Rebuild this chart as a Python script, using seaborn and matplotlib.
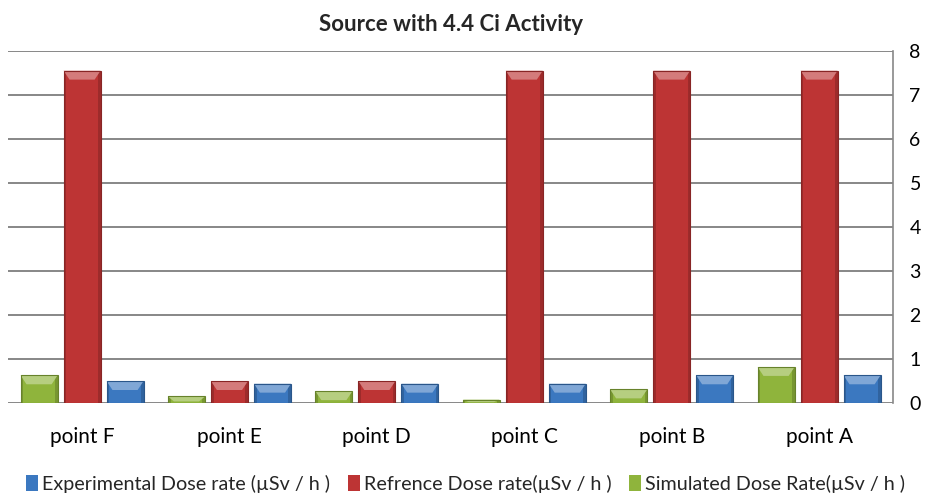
import matplotlib
matplotlib.use("Agg")
import matplotlib.pyplot as plt
from matplotlib.patches import Polygon, Rectangle
import matplotlib.colors as mcolors
import seaborn as sns
import pandas as pd

# Dose rates at each measuring point (µSv/h)
points = ["point F", "point E", "point D", "point C", "point B", "point A"]
simulated = [0.63, 0.15, 0.27, 0.08, 0.31, 0.82]
reference = [7.55, 0.50, 0.50, 7.55, 7.55, 7.55]
experimental = [0.50, 0.44, 0.44, 0.44, 0.63, 0.63]

series_names = [
    "Simulated Dose Rate(µSv / h )",
    "Refrence Dose rate(µSv / h )",
    "Experimental Dose rate (µSv / h )",
]
series_values = [simulated, reference, experimental]
series_colors = ["#8fb43c", "#bd3434", "#3b78c0"]

rows = []
for name, vals in zip(series_names, series_values):
    for p, v in zip(points, vals):
        rows.append({"point": p, "series": name, "value": v})
df = pd.DataFrame(rows)

sns.set_theme(style="white")
plt.rcParams["font.family"] = ["Lato", "DejaVu Sans"]

fig = plt.figure(figsize=(9.29, 4.94), dpi=100)
ax = fig.add_axes([0.009, 0.184, 0.952, 0.713])

sns.barplot(
    data=df, x="point", y="value", hue="series",
    order=points, hue_order=series_names,
    palette=dict(zip(series_names, series_colors)),
    width=0.875, gap=0.14, saturation=1, errorbar=None,
    edgecolor="none", ax=ax, zorder=3,
)

# bevelled look: lighter top facet and darker sides on every bar
px_per_unit = ax.transData.transform((0, 1))[1] - ax.transData.transform((0, 0))[1]
for bar in list(ax.patches):
    x, y = bar.get_x(), bar.get_y()
    w, h = bar.get_width(), bar.get_height()
    if h <= 0:
        continue
    base = mcolors.to_rgb(bar.get_facecolor())
    light = tuple(min(1, c + (1 - c) * 0.35) for c in base)
    dark = tuple(c * 0.72 for c in base)
    bev_h = min(9 / px_per_unit, h * 0.75)
    inset = w * 0.16
    ax.add_patch(Rectangle((x, y), w * 0.07, h, color=dark, alpha=0.6, lw=0, zorder=4))
    ax.add_patch(Rectangle((x + w * 0.93, y), w * 0.07, h, color=dark, alpha=0.6, lw=0, zorder=4))
    ax.add_patch(Polygon(
        [(x, y + h), (x + w, y + h), (x + w - inset, y + h - bev_h), (x + inset, y + h - bev_h)],
        closed=True, color=light, lw=0, zorder=5,
    ))
    ax.add_patch(Rectangle((x, y), w, h, fill=False, ec=dark, lw=0.8, zorder=6))

ax.set_ylim(0, 8)
ax.set_xlim(-0.5, len(points) - 0.5)
ax.yaxis.tick_right()
ax.set_yticks(range(0, 9))
ax.grid(axis="y", color="#878787", linewidth=1.4, zorder=0)
ax.grid(axis="x", visible=False)
for side in ["left", "top", "bottom"]:
    ax.spines[side].set_visible(False)
ax.spines["right"].set_color("#878787")
ax.spines["right"].set_linewidth(1.2)
ax.tick_params(axis="y", length=0, pad=12, labelsize=14, colors="#000000")
ax.tick_params(axis="x", length=0, pad=17, labelsize=15, colors="#000000")
ax.set_xlabel("")
ax.set_ylabel("")

ax.set_title("Source with 4.4 Ci Activity", fontsize=16, fontweight="bold", pad=14)

handles, labels = ax.get_legend_handles_labels()
ax.legend(
    handles[::-1], labels[::-1],
    loc="lower center", bbox_to_anchor=(0.517, -0.305), ncol=3,
    frameon=False, fontsize=14.2, handlelength=0.6, handleheight=0.9,
    handletextpad=0.2, columnspacing=0.9,
)

fig.savefig("out.png", dpi=100)
